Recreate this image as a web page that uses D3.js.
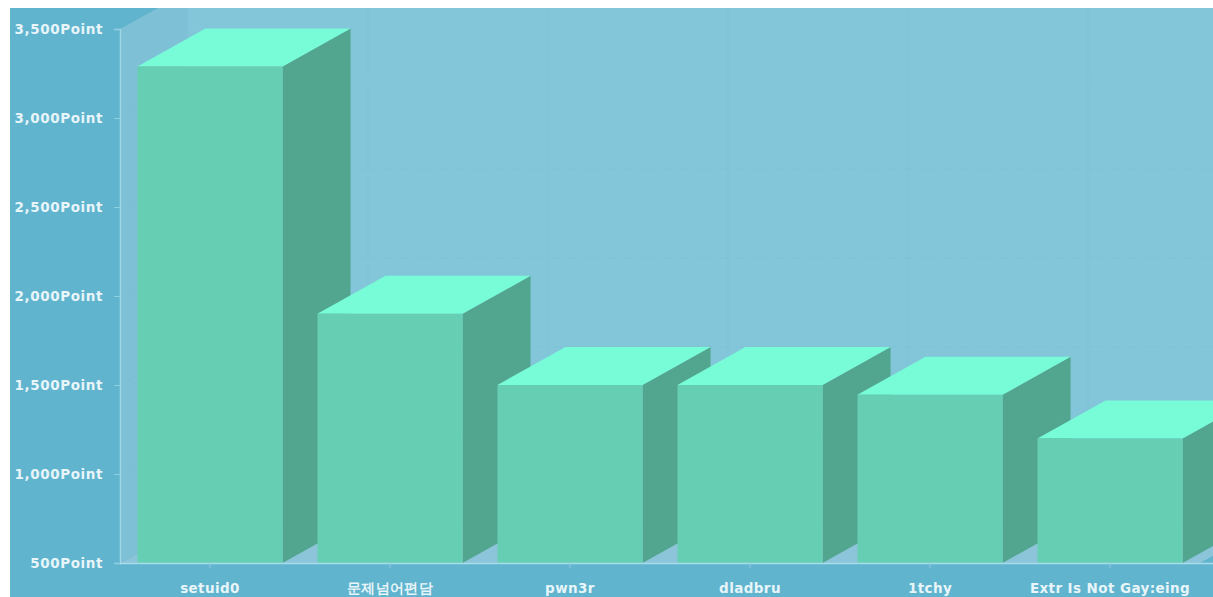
<!DOCTYPE html>
<html><head><meta charset="utf-8">
<script src="https://cdn.jsdelivr.net/npm/d3@7"></script>
<style>html,body{margin:0;padding:0;background:#fff;overflow:hidden}</style>
</head><body>
<svg id="c" width="1213" height="597"></svg>
<script>
const categories = ["setuid0", "문제넘어편담", "pwn3r", "dladbru", "1tchy", "Extr Is Not Gay:eing"];
const values = [3290, 1900, 1500, 1500, 1445, 1200];
const yTicks = [500, 1000, 1500, 2000, 2500, 3000, 3500];

const W = 1213, H = 597;
const svg = d3.select("#c");
const DX = 68, DY = 38;
const x = d3.scaleBand().domain(categories).range([120, 1200]).paddingInner(0.194).paddingOuter(0.097);
const y = d3.scaleLinear().domain([500, 3500]).range([563, 29]);
const fmt = d3.format(",");

svg.append("defs").append("clipPath").attr("id", "clip")
  .append("rect").attr("x", 10).attr("y", 8).attr("width", W - 10).attr("height", H - 8);
const g = svg.append("g").attr("clip-path", "url(#clip)");

g.append("rect").attr("x", 10).attr("y", 8).attr("width", W - 10).attr("height", H - 8).attr("fill", "#60b4ce");

const x0 = x.range()[0], x1 = x.range()[1];
const yb = y(500), yt = y(3500);
// back wall
g.append("polygon").attr("points", [[x0 + DX, yt - DY], [x1 + DX, yt - DY], [x1 + DX, yb - DY], [x0 + DX, yb - DY]].join(" ")).attr("fill", "#83c6da");
// left wall
g.append("polygon").attr("points", [[x0, yt], [x0 + DX, yt - DY], [x0 + DX, yb - DY], [x0, yb]].join(" ")).attr("fill", "#7ec1d7");
// floor
g.append("polygon").attr("points", [[x0, yb], [x1, yb], [x1 + DX, yb - DY], [x0 + DX, yb - DY]].join(" ")).attr("fill", "#8cc5d9");

// grid lines
const grid = g.append("g").attr("stroke", "rgba(80,150,180,0.08)").attr("stroke-width", 1).attr("fill", "none");
yTicks.forEach(v => {
  const yy = y(v);
  grid.append("line").attr("x1", x0 + DX).attr("x2", x1 + DX).attr("y1", yy - DY).attr("y2", yy - DY).attr("stroke-dasharray", "10,4");
  grid.append("line").attr("x1", x0).attr("x2", x0 + DX).attr("y1", yy).attr("y2", yy - DY);
});
categories.forEach((c, i) => {
  const xx = x0 + x.step() * (i + 1) + DX;
  grid.append("line").attr("x1", xx).attr("x2", xx).attr("y1", yt - DY).attr("y2", yb - DY);
});

// bars
const bars = g.append("g").selectAll("g").data(categories).join("g");
bars.each(function (c, i) {
  const b = d3.select(this);
  const bx = x(c), bw = x.bandwidth(), by = y(values[i]);
  b.append("polygon").attr("points", [[bx + bw, by], [bx + bw + DX, by - DY], [bx + bw + DX, yb - DY], [bx + bw, yb]].join(" ")).attr("fill", "#52a68f");
  b.append("polygon").attr("points", [[bx, by], [bx + DX, by - DY], [bx + bw + DX, by - DY], [bx + bw, by]].join(" ")).attr("fill", "#78fcd8");
  b.append("rect").attr("x", bx).attr("y", by).attr("width", bw).attr("height", yb - by).attr("fill", "#66cfb3");
});

// axes
const textCol = "#e8f5f9";
const yAxis = svg.append("g").attr("transform", `translate(${x0},0)`)
  .call(d3.axisLeft(y).tickValues(yTicks).tickFormat(d => fmt(d) + "Point").tickSize(6).tickPadding(11));
yAxis.select(".domain").attr("stroke", "#9fd6e6").attr("stroke-width", 1.5);
yAxis.selectAll(".tick line").attr("stroke", "#8fcde0");
yAxis.selectAll("text").attr("fill", textCol).attr("font-family", "DejaVu Sans").attr("font-weight", "bold").attr("font-size", "13.5px").attr("letter-spacing", "0.6px");

const xAxis = svg.append("g").attr("transform", `translate(0,${yb})`)
  .call(d3.axisBottom(x).tickSize(5).tickPadding(15));
xAxis.select(".domain").attr("d", `M${x0},0.5H${W}`).attr("stroke", "#a8dcea").attr("stroke-width", 1.5);
xAxis.selectAll(".tick line").attr("stroke", "#8fcde0");
xAxis.selectAll("text").attr("fill", textCol).attr("font-family", "DejaVu Sans").attr("font-weight", "bold").attr("font-size", "13.5px").attr("letter-spacing", "0.4px");
</script>
</body></html>
